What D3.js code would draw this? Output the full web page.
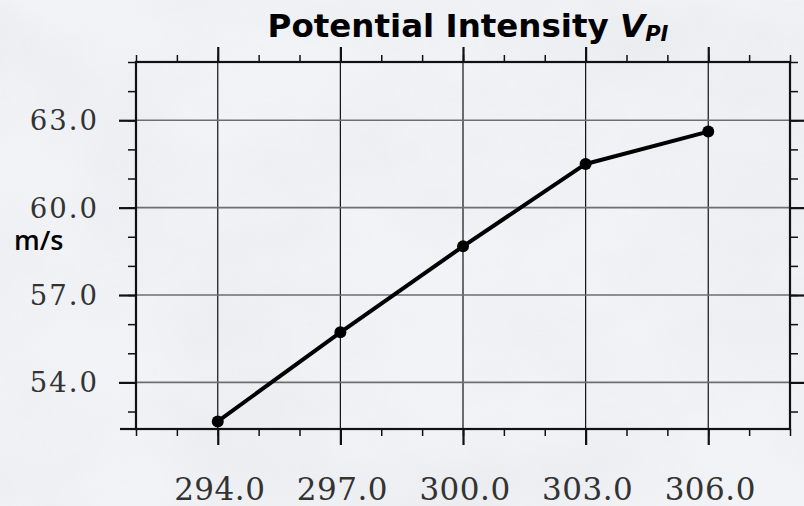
<!DOCTYPE html>
<html>
<head>
<meta charset="utf-8">
<script src="https://cdn.jsdelivr.net/npm/d3@7"></script>
<style>
  body { margin: 0; }
  svg { display: block; }
</style>
</head>
<body>
<div id="chart"></div>
<script>
// SST (K) against potential intensity (m/s)
const sstValues = [294, 297, 300, 303, 306];
const piValues = [52.66, 55.72, 58.67, 61.5, 62.61];
const xTickValues = [294, 297, 300, 303, 306];
const yTickValues = [54, 57, 60, 63];
const xDomain = [292, 308];
const yDomain = [52.4, 65.0];

const width = 804, height = 506;
const margin = { top: 62, right: 14, bottom: 77, left: 136 };
const innerW = width - margin.left - margin.right;
const innerH = height - margin.top - margin.bottom;

const svg = d3.select('#chart').append('svg')
  .attr('width', width)
  .attr('height', height);

// cloudy backdrop
const defs = svg.append('defs');
const filt = defs.append('filter').attr('id', 'clouds')
  .attr('x', 0).attr('y', 0).attr('width', '100%').attr('height', '100%');
filt.append('feTurbulence')
  .attr('type', 'fractalNoise')
  .attr('baseFrequency', '0.006 0.009')
  .attr('numOctaves', 4)
  .attr('seed', 7)
  .attr('result', 'noise');
filt.append('feColorMatrix')
  .attr('type', 'matrix')
  .attr('values', '0 0 0 0 0.62  0 0 0 0 0.64  0 0 0 0 0.68  0 0 0 -1.1 0.75');

svg.append('rect')
  .attr('width', width).attr('height', height)
  .attr('fill', '#f1f3f6');
svg.append('rect')
  .attr('width', width).attr('height', height)
  .attr('filter', 'url(#clouds)')
  .attr('opacity', 0.3);

const g = svg.append('g')
  .attr('transform', `translate(${margin.left},${margin.top})`);

const x = d3.scaleLinear().domain(xDomain).range([0, innerW]);
const y = d3.scaleLinear().domain(yDomain).range([innerH, 0]);

const xMinor = d3.range(xDomain[0], xDomain[1] + 0.5, 1);
const yMinor = d3.range(53, 65.5, 1);

// grid lines at major ticks
g.append('g').selectAll('line')
  .data(xTickValues)
  .join('line')
  .attr('x1', d => x(d)).attr('x2', d => x(d))
  .attr('y1', 0).attr('y2', innerH)
  .attr('stroke', '#111').attr('stroke-width', 1.2);
g.append('g').selectAll('line')
  .data(yTickValues)
  .join('line')
  .attr('x1', 0).attr('x2', innerW)
  .attr('y1', d => y(d)).attr('y2', d => y(d))
  .attr('stroke', '#6e6e6e').attr('stroke-width', 1.6);

// outward ticks on all four sides
function ticks(axis, vals, len) {
  return axis.tickValues(vals).tickSize(len).tickSizeOuter(0).tickFormat('');
}
const axisStyle = sel => {
  sel.select('.domain').remove();
  sel.selectAll('line').attr('stroke', '#111').attr('stroke-width', 1.5);
};
g.append('g').attr('transform', `translate(0,${innerH})`)
  .call(ticks(d3.axisBottom(x), xMinor, 7)).call(axisStyle);
g.append('g').attr('transform', `translate(0,${innerH})`)
  .call(ticks(d3.axisBottom(x), xTickValues, 16)).call(axisStyle)
  .selectAll('line').attr('stroke-width', 2.2);
g.append('g')
  .call(ticks(d3.axisTop(x), xMinor, 7)).call(axisStyle);
g.append('g')
  .call(ticks(d3.axisTop(x), xTickValues, 15)).call(axisStyle)
  .selectAll('line').attr('stroke-width', 2.2);
g.append('g')
  .call(ticks(d3.axisLeft(y), yMinor, 8)).call(axisStyle);
g.append('g')
  .call(ticks(d3.axisLeft(y), yTickValues, 17)).call(axisStyle)
  .selectAll('line').attr('stroke-width', 2.2);
g.append('g').attr('transform', `translate(${innerW},0)`)
  .call(ticks(d3.axisRight(y), yMinor, 8)).call(axisStyle);
g.append('g').attr('transform', `translate(${innerW},0)`)
  .call(ticks(d3.axisRight(y), yTickValues, 16)).call(axisStyle)
  .selectAll('line').attr('stroke-width', 2.2);

// small overhang of the bottom frame line on the left
g.append('line')
  .attr('x1', -16).attr('x2', 0)
  .attr('y1', innerH).attr('y2', innerH)
  .attr('stroke', '#111').attr('stroke-width', 2.2);

// frame
g.append('rect')
  .attr('width', innerW).attr('height', innerH)
  .attr('fill', 'none')
  .attr('stroke', '#111').attr('stroke-width', 2.2);

// tick labels
g.append('g').selectAll('text')
  .data(xTickValues)
  .join('text')
  .attr('x', d => x(d) + 2)
  .attr('y', innerH + 71)
  .attr('text-anchor', 'middle')
  .attr('font-family', 'DejaVu Serif')
  .attr('font-size', 31)
  .attr('letter-spacing', 0.5)
  .attr('fill', '#333')
  .text(d => d3.format('.1f')(d));
g.append('g').selectAll('text')
  .data(yTickValues)
  .join('text')
  .attr('x', -37)
  .attr('y', d => y(d) + 10)
  .attr('text-anchor', 'end')
  .attr('font-family', 'DejaVu Serif')
  .attr('font-size', 27.5)
  .attr('letter-spacing', 2)
  .attr('fill', '#333')
  .text(d => d3.format('.1f')(d));

// series line and markers
const line = d3.line()
  .x((d, i) => x(sstValues[i]))
  .y(d => y(d));
g.append('path')
  .datum(piValues)
  .attr('d', line)
  .attr('fill', 'none')
  .attr('stroke', '#000')
  .attr('stroke-width', 4)
  .attr('stroke-linejoin', 'round');
g.append('g').selectAll('circle')
  .data(piValues)
  .join('circle')
  .attr('cx', (d, i) => x(sstValues[i]))
  .attr('cy', d => y(d))
  .attr('r', 6)
  .attr('fill', '#000');

// title and units
const title = svg.append('text')
  .attr('x', 468)
  .attr('y', 37)
  .attr('text-anchor', 'middle')
  .attr('font-family', 'DejaVu Sans')
  .attr('font-weight', 'bold')
  .attr('font-size', 32.5)
  .attr('fill', '#000');
title.append('tspan').text('Potential Intensity ');
title.append('tspan').attr('font-style', 'italic').text('V');
title.append('tspan').attr('font-style', 'italic')
  .attr('font-size', 21).attr('dy', 4).text('PI');

svg.append('text')
  .attr('x', 14)
  .attr('y', 250)
  .attr('font-family', 'Open Sans')
  .attr('font-weight', 600)
  .attr('font-size', 27)
  .attr('fill', '#000')
  .text('m/s');
</script>
</body>
</html>
